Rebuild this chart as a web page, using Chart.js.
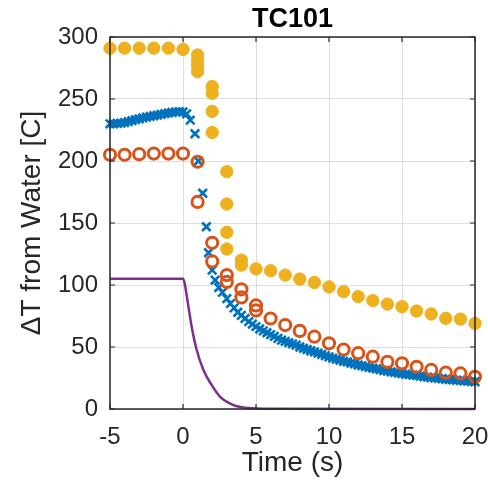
<!DOCTYPE html>
<html>
<head>
<meta charset="utf-8">
<script src="https://cdn.jsdelivr.net/npm/chart.js@4.4.0/dist/chart.umd.min.js"></script>
<style>
html,body{margin:0;padding:0;background:#fff;}
#wrap{width:488px;height:491px;}
</style>
</head>
<body>
<div id="wrap"><canvas id="c" width="488" height="491"></canvas></div>
<script>
// ---- data ----
const chartTitle = 'TC101';
const xTitle = 'Time (s)';
const yTitle = '\u0394T from Water [C]';
const xTicks = [-5, 0, 5, 10, 15, 20];
const yTicks = [0, 50, 100, 150, 200, 250, 300];

const yellowT = [-5, -4, -3, -2, -1, 0, 1, 1, 1, 1, 2, 2, 2, 2, 3, 3, 3, 3, 4, 4, 5, 6, 7, 8, 9, 10, 11, 12, 13, 14, 15, 16, 17, 18, 19, 20];
const yellowV = [291, 291, 291, 291, 291, 290, 285.5, 281, 276.6, 272, 260, 254.6, 240, 223, 191.4, 165.3, 142.5, 129, 120, 116, 113, 111.5, 108, 104.8, 102, 98.4, 94.6, 90.6, 87.4, 84.6, 82.5, 79, 76.6, 73.1, 72.5, 69];

const orangeT = [-5, -4, -3, -2, -1, 0, 1, 1, 2, 2, 3, 3, 4, 4, 5, 5, 6, 7, 8, 9, 10, 11, 12, 13, 14, 15, 16, 17, 18, 19, 20];
const orangeV = [205, 205, 205.5, 206, 206, 206, 199.4, 167, 134, 119, 108, 102.5, 96.5, 90, 83.5, 79.5, 73, 67.7, 63, 58.3, 53, 48, 45, 42.2, 38, 36.8, 34, 31.5, 29.3, 28.7, 26];

const blueT = [-5, -4.75, -4.5, -4.25, -4, -3.75, -3.5, -3.25, -3, -2.75, -2.5, -2.25, -2, -1.75, -1.5, -1.25, -1, -0.75, -0.5, -0.25, 0, 0.25, 0.5, 0.82, 1.05, 1.35, 1.6, 1.75, 2, 2.2, 2.45, 2.7, 3, 3.25, 3.5, 3.75, 4, 4.25, 4.5, 4.75, 5, 5.25, 5.5, 5.75, 6, 6.25, 6.5, 6.75, 7, 7.25, 7.5, 7.75, 8, 8.25, 8.5, 8.75, 9, 9.25, 9.5, 9.75, 10, 10.25, 10.5, 10.75, 11, 11.25, 11.5, 11.75, 12, 12.25, 12.5, 12.75, 13, 13.25, 13.5, 13.75, 14, 14.25, 14.5, 14.75, 15, 15.25, 15.5, 15.75, 16, 16.25, 16.5, 16.75, 17, 17.25, 17.5, 17.75, 18, 18.25, 18.5, 18.75, 19, 19.25, 19.5, 19.75, 20];
const blueV = [230, 230, 230.3, 230.6, 231, 231.7, 232.5, 233.3, 234, 234.8, 235.4, 236, 236.5, 237, 237.6, 238.2, 238.7, 239.2, 239.6, 239.8, 239.5, 238, 233, 222, 200, 174, 147, 126, 112, 104, 98, 94, 89, 85, 81.5, 78, 75.5, 73, 70.5, 68.5, 66.5, 64.5, 63, 61.5, 60, 58.5, 57, 55.5, 54.5, 53.5, 52.5, 51.5, 50, 49, 48, 47, 46, 45, 44, 43, 42, 41, 40.2, 39.5, 38.5, 38, 37, 36.5, 35.5, 35, 34.2, 33.5, 33, 32.3, 31.7, 31, 30.5, 30, 29.5, 29, 28.5, 28, 27.7, 27.3, 27, 26.5, 26, 25.7, 25.3, 25, 24.7, 24.4, 24, 23.8, 23.5, 23.2, 23, 22.7, 22.5, 22.2, 22];

const purpleT = [-5, 0, 0.1, 0.3, 0.6, 0.93, 1.4, 1.96, 2.53, 3.45, 4.5, 6, 20];
const purpleV = [105, 105, 102, 88, 66, 48, 31.5, 19.4, 10, 3.2, 0.8, 0.2, 0];

const toPts = (t, v) => t.map((x, i) => ({x: x, y: v[i]}));

// ---- frame + inside ticks (MATLAB-style box) ----
const framePlugin = {
  id: 'frame',
  afterDatasetsDraw(chart) {
    const {ctx, chartArea: a, scales} = chart;
    ctx.save();
    ctx.strokeStyle = '#262626';
    ctx.lineWidth = 1.5;
    ctx.strokeRect(a.left, a.top, a.right - a.left, a.bottom - a.top);
    const L = 5;
    ctx.beginPath();
    scales.x.ticks.forEach(t => {
      const px = scales.x.getPixelForValue(t.value);
      ctx.moveTo(px, a.bottom); ctx.lineTo(px, a.bottom - L);
      ctx.moveTo(px, a.top); ctx.lineTo(px, a.top + L);
    });
    scales.y.ticks.forEach(t => {
      const py = scales.y.getPixelForValue(t.value);
      ctx.moveTo(a.left, py); ctx.lineTo(a.left + L, py);
      ctx.moveTo(a.right, py); ctx.lineTo(a.right - L, py);
    });
    ctx.lineWidth = 1.2;
    ctx.stroke();
    ctx.restore();
  }
};

const FONT = "'Liberation Sans', Arial, Helvetica, sans-serif";

new Chart(document.getElementById('c'), {
  type: 'scatter',
  data: {
    datasets: [
      {
        label: 'purple', type: 'line', data: toPts(purpleT, purpleV),
        borderColor: '#7E2F8E', borderWidth: 2.5, pointRadius: 0, fill: false,
        cubicInterpolationMode: 'monotone', order: 4
      },
      {
        label: 'blue', data: toPts(blueT, blueV), pointStyle: 'crossRot',
        pointRadius: 6, borderColor: '#0072BD', backgroundColor: '#0072BD', borderWidth: 2.6, order: 3
      },
      {
        label: 'orange', data: toPts(orangeT, orangeV), pointStyle: 'circle',
        pointRadius: 5.6, borderColor: '#D95319', backgroundColor: 'rgba(0,0,0,0)', borderWidth: 3, order: 2
      },
      {
        label: 'yellow', data: toPts(yellowT, yellowV), pointStyle: 'circle',
        pointRadius: 6.2, borderColor: '#EDB120', backgroundColor: '#EDB120', borderWidth: 1, order: 1
      }
    ]
  },
  options: {
    responsive: false,
    animation: false,
    devicePixelRatio: 1,
    layout: {padding: {left: 0, right: 13, top: 0, bottom: 0}},
    clip: false,
    plugins: {
      legend: {display: false},
      tooltip: {enabled: false},
      title: {
        display: true, text: chartTitle, fullSize: false, color: '#000',
        font: {family: FONT, size: 27, weight: 'bold', lineHeight: 1.0},
        padding: {top: 6, bottom: 4}
      }
    },
    scales: {
      x: {
        type: 'linear', min: -5, max: 20,
        afterBuildTicks: s => { s.ticks = xTicks.map(v => ({value: v})); },
        afterFit: s => { s.height = 82; s.paddingLeft = 0; s.paddingRight = 0; },
        ticks: {color: '#262626', padding: 14, maxRotation: 0, font: {family: FONT, size: 24}},
        grid: {color: 'rgba(38,38,38,0.15)', lineWidth: 1, drawTicks: false},
        border: {display: false},
        title: {display: true, text: xTitle, color: '#262626', padding: {top: 0, bottom: 11}, font: {family: FONT, size: 28}}
      },
      y: {
        type: 'linear', min: 0, max: 300,
        afterBuildTicks: s => { s.ticks = yTicks.map(v => ({value: v})); },
        afterFit: s => { s.width = 110; s.paddingTop = 0; s.paddingBottom = 0; },
        ticks: {color: '#262626', padding: 12, font: {family: FONT, size: 24}},
        grid: {color: 'rgba(38,38,38,0.15)', lineWidth: 1, drawTicks: false},
        border: {display: false},
        title: {display: true, text: yTitle, color: '#262626', padding: {top: 15, bottom: 0}, font: {family: FONT, size: 28}}
      }
    }
  },
  plugins: [framePlugin]
});
</script>
</body>
</html>
